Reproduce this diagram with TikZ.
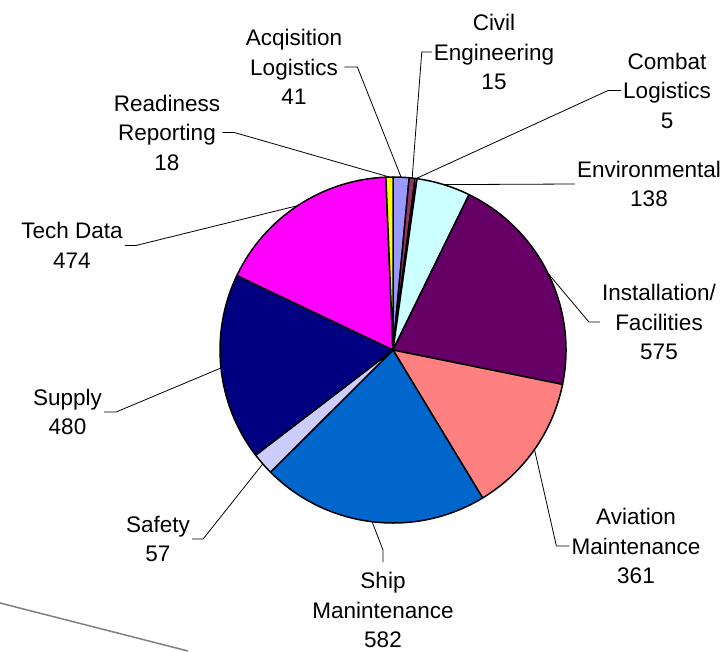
\documentclass[tikz,border=0pt]{standalone}
\usepackage{fontspec}
\setmainfont{Liberation Sans}
\definecolor{acqcol}{HTML}{9999FF}
\definecolor{civilcol}{HTML}{993366}
\definecolor{combatcol}{HTML}{FFFFCC}
\definecolor{envcol}{HTML}{CCFFFF}
\definecolor{instcol}{HTML}{660066}
\definecolor{avicol}{HTML}{FF8080}
\definecolor{shipcol}{HTML}{0066CC}
\definecolor{safecol}{HTML}{CCCCFF}
\definecolor{supplycol}{HTML}{000080}
\definecolor{techcol}{HTML}{FF00FF}
\definecolor{readycol}{HTML}{FFFF00}
\tikzset{
  lbl/.style={align=center, font=\fontsize{22.5}{29.5}\selectfont, inner sep=2pt},
  leader/.style={draw=black, line width=0.8pt},
  slice/.style={draw=black, line width=1.5pt, line join=round},
}
\begin{document}
\begin{tikzpicture}[x=1pt,y=1pt]
\fill[white] (0,0) rectangle (725,-651);
\useasboundingbox (0,0) rectangle (725,-651);
\coordinate (ctr) at (393,-350);
% slices, clockwise from the top
\foreach \a/\b/\c [count=\i] in {0/41/acqcol, 41/56/civilcol, 56/61/combatcol, 61/199/envcol,
  199/774/instcol, 774/1135/avicol, 1135/1717/shipcol, 1717/1774/safecol,
  1774/2254/supplycol, 2254/2728/techcol, 2728/2746/readycol} {
  \pgfmathsetmacro\sa{90-360*(\a/2746)}
  \pgfmathsetmacro\ea{90-360*(\b/2746)}
  \pgfmathsetmacro\ma{(\sa+\ea)/2}
  \filldraw[slice, fill=\c] (ctr) -- ++(\sa:173) arc[start angle=\sa, end angle=\ea, radius=173pt] -- cycle;
  \path (ctr) ++(\ma:173) coordinate (p\i);
}
% labels
\node[lbl] (acq) at (294,-67) {Acqisition\\Logistics\\41};
\node[lbl] (civil) at (494,-52) {Civil\\Engineering\\15};
\node[lbl] (combat) at (667,-90.5) {Combat\\Logistics\\5};
\node[lbl] (env) at (649,-184) {Environmental\\138};
\node[lbl] (inst) at (659,-322) {Installation/\\Facilities\\575};
\node[lbl] (avi) at (636,-546) {Aviation\\Maintenance\\361};
\node[lbl] (ship) at (383,-610) {Ship\\Manintenance\\582};
\node[lbl] (safety) at (158,-539) {Safety\\57};
\node[lbl] (supply) at (67.5,-412) {Supply\\480};
\node[lbl] (tech) at (72,-245.5) {Tech Data\\474};
\node[lbl] (ready) at (167,-132.5) {Readiness\\Reporting\\18};
% leader lines
\draw[leader] (acq.east) -- ++(13,0) -- (p1);
\draw[leader] (civil.west) -- ++(-10,0) -- (p2);
\draw[leader] (combat.west) -- ++(-13,0) -- (p3);
\draw[leader] (env.west) -- (p4);
\draw[leader] (inst.west) -- ++(-11,0) -- (p5);
\draw[leader] (avi.west) -- ++(-13,0) -- (p6);
\draw[leader, shorten <=8pt] (ship.north) -- ++(0,20) -- (p7);
\draw[leader] (safety.east) -- ++(11,0) -- (p8);
\draw[leader] (supply.east) -- ++(12,0) -- (p9);
\draw[leader] (tech.east) -- ++(11,0) -- (p10);
\draw[leader] (ready.east) -- ++(12,0) -- (p11);
\draw[gray, line width=1.5pt] (0,-603) -- (188,-651);
\end{tikzpicture}
\end{document}
